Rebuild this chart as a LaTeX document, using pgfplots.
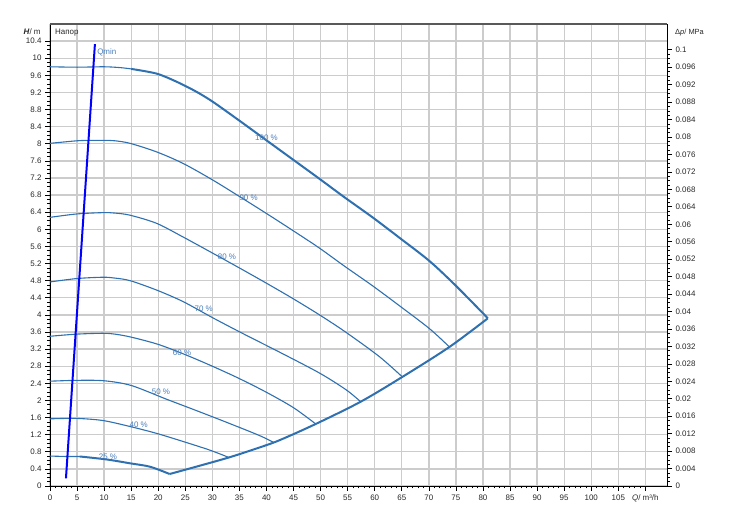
\documentclass[border=0pt]{standalone}
\usepackage{pgfplots}
\pgfplotsset{compat=1.18}
\usepackage{fontspec}
\setmainfont{Liberation Sans}
\definecolor{curve}{RGB}{46,112,176}
\definecolor{lbl}{RGB}{74,126,187}
\definecolor{gridc}{RGB}{204,204,204}
\definecolor{txt}{RGB}{40,40,40}
\pgfplotsset{
  common/.style={
    at={(0,0)}, anchor=south west, scale only axis,
    width=617bp, height=462bp,
    xmin=0, xmax=114,
    tick align=outside,
    major tick length=5bp, minor tick length=2.5bp,
    tick style={black, line width=0.7bp},
    minor tick style={black, line width=0.6bp},
    axis line style={-, black, line width=0.9bp},
    tick label style={font=\fontsize{8}{9}\selectfont, text=txt},
    /pgf/number format/assume math mode=true,
  }
}
\begin{document}
\begin{tikzpicture}[x=1bp,y=1bp]
\begin{axis}[common,
  ymin=0, ymax=10.8,
  axis x line*=bottom, axis y line*=left,
  xtick={0,5,10,15,20,25,30,35,40,45,50,55,60,65,70,75,80,85,90,95,100,105,110},
  xticklabels={0,5,10,15,20,25,30,35,40,45,50,55,60,65,70,75,80,85,90,95,100,105,{\textit{Q}/ m³/h}},
  minor x tick num=4,
  ytick={0,0.4,0.8,1.2,1.6,2,2.4,2.8,3.2,3.6,4,4.4,4.8,5.2,5.6,6,6.4,6.8,7.2,7.6,8,8.4,8.8,9.2,9.6,10,10.4},
  yticklabels={0,0.4,0.8,1.2,1.6,2,2.4,2.8,3.2,3.6,4,4.4,4.8,5.2,5.6,6,6.4,6.8,7.2,7.6,8,8.4,8.8,9.2,9.6,10,10.4},
  minor y tick num=3,
  grid=major,
  major grid style={gridc, line width=1.3bp},
  clip=false,
]
% 100 %
\addplot[curve, line width=1.1bp, smooth] coordinates {(0,9.80) (5,9.79) (10,9.80) (13,9.78) (15,9.75)};
\addplot[curve, line width=2bp, smooth] coordinates {(15,9.75) (19.7,9.64) (23.4,9.45) (27,9.22) (30.1,8.98) (35,8.54) (40,8.08) (44.9,7.63) (49.8,7.18) (54.4,6.75) (59.6,6.28) (64.6,5.80) (70.1,5.26) (75,4.68) (80.9,3.92)};
% boundary
\addplot[curve, line width=2bp, smooth] coordinates {(80.9,3.92) (73.8,3.25) (65.1,2.55) (57.4,1.97) (49.1,1.45) (42.4,1.07) (38.7,0.90) (32.6,0.65) (22.1,0.28)};
% 90 %
\addplot[curve, line width=1.1bp, smooth] coordinates {(0,8.01) (5,8.07) (7.4,8.08) (10,8.08) (12,8.07) (14.8,8.01) (19.7,7.81) (24.6,7.54) (30.1,7.15) (35.1,6.76) (40,6.37) (44.9,5.97) (49.8,5.56) (54.4,5.14) (59.6,4.68) (64.6,4.21) (70.1,3.68) (73.8,3.25)};
% 80 %
\addplot[curve, line width=1.1bp, smooth] coordinates {(0,6.28) (5,6.36) (9.8,6.39) (12,6.38) (14.8,6.33) (19.7,6.14) (24.6,5.82) (30.1,5.44) (35.1,5.09) (40,4.74) (44.9,4.38) (49.8,4.00) (54.6,3.60) (60.8,3.03) (65.1,2.55)};
% 70 %
\addplot[curve, line width=1.1bp, smooth] coordinates {(0,4.77) (5,4.85) (9.8,4.88) (12,4.86) (14.8,4.80) (19.7,4.58) (24.6,4.31) (30.1,3.93) (36,3.54) (42.4,3.13) (49.8,2.64) (54.7,2.25) (57.4,1.97)};
% 60 %
\addplot[curve, line width=1.1bp, smooth] coordinates {(0,3.50) (4.9,3.55) (9.8,3.57) (12,3.55) (15,3.48) (20,3.31) (25,3.07) (30,2.80) (35,2.51) (40,2.19) (45,1.83) (49.1,1.45)};
% 50 %
\addplot[curve, line width=1.1bp, smooth] coordinates {(0,2.45) (5,2.47) (10,2.46) (15,2.35) (21.5,2.03) (26.9,1.77) (32.6,1.49) (38.7,1.18) (41.3,1.02)};
% 40 %
\addplot[curve, line width=1.1bp, smooth] coordinates {(0,1.57) (4.9,1.58) (9.8,1.53) (14.8,1.39) (19.7,1.23) (24.6,1.04) (29.5,0.84) (33.2,0.66)};
% 25 %
\addplot[curve, line width=1.1bp, smooth] coordinates {(0,0.70) (3,0.69) (5.5,0.69)};
\addplot[curve, line width=2bp, smooth] coordinates {(5.5,0.69) (10.5,0.62) (14.8,0.53) (18.5,0.45) (22.1,0.28)};
% Qmin
\addplot[blue, line width=2bp] coordinates {(2.95,0.18) (8.3,10.33)};
% labels
\begin{scope}[every node/.style={font=\fontsize{8}{9}\selectfont, text=lbl, inner sep=0pt}]
\node at (axis cs:40.0,8.15) {100 \%};
\node at (axis cs:36.7,6.73) {90 \%};
\node at (axis cs:32.7,5.35) {80 \%};
\node at (axis cs:28.4,4.14) {70 \%};
\node at (axis cs:24.4,3.11) {60 \%};
\node at (axis cs:20.5,2.20) {50 \%};
\node at (axis cs:16.4,1.43) {40 \%};
\node at (axis cs:10.7,0.68) {25 \%};
\node[anchor=west] at (axis cs:8.7,10.14) {Qmin};
\end{scope}
\node[anchor=west, inner sep=0pt, font=\fontsize{8}{9}\selectfont, text=txt] at (axis cs:0.9,10.61) {Напор};
\node[anchor=east, inner sep=0pt, font=\fontsize{8}{9}\selectfont, text=txt] at (axis cs:-1.7,10.61) {\textbf{\textit{H}}/ m};
\draw[black!65, line width=1.5bp] (axis cs:0,10.8) -- (axis cs:114,10.8);
\end{axis}
\begin{axis}[common,
  ymin=0, ymax=0.105912,
  axis x line=none, axis y line*=right,
  ytick={0,0.004,0.008,0.012,0.016,0.02,0.024,0.028,0.032,0.036,0.04,0.044,0.048,0.052,0.056,0.06,0.064,0.068,0.072,0.076,0.08,0.084,0.088,0.092,0.096,0.1},
  yticklabels={0,0.004,0.008,0.012,0.016,0.02,0.024,0.028,0.032,0.036,0.04,0.044,0.048,0.052,0.056,0.06,0.064,0.068,0.072,0.076,0.08,0.084,0.088,0.092,0.096,0.1},
  minor y tick num=3,
  yticklabel style={anchor=west},
  clip=false,
]
\node[anchor=west, inner sep=0pt, font=\fontsize{7.5}{9}\selectfont, text=txt] at (rel axis cs:1,0.9805) [xshift=8bp] {Δ\textit{p}/ MPa};
\end{axis}
\pgfresetboundingbox
\path[use as bounding box] (-50bp,-36bp) rectangle (683bp,486bp);
\end{tikzpicture}
\end{document}
